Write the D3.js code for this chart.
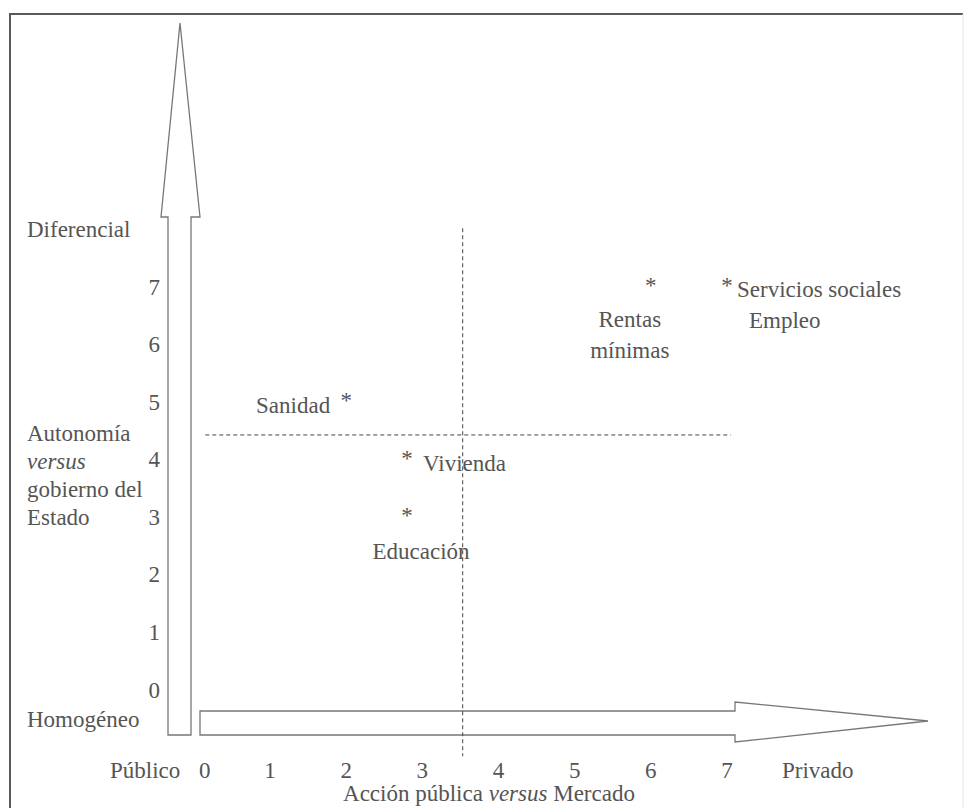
<!DOCTYPE html>
<html>
<head>
<meta charset="utf-8">
<script src="https://cdn.jsdelivr.net/npm/d3@7"></script>
<style>
  html, body { margin: 0; padding: 0; background: #fff; }
  svg text { font-family: "Liberation Serif", "Times New Roman", serif; fill: #555; }
</style>
</head>
<body>
<svg id="chart" width="966" height="808"></svg>
<script>
// ---- data ----
const categories = ["Sanidad", "Vivienda", "Educación", "Rentas mínimas", "Servicios sociales"];
const accionValues = [2, 2.8, 2.8, 6, 7];      // Acción pública versus Mercado
const autonomiaValues = [5, 4, 3, 7, 7];       // Autonomía versus gobierno del Estado
const xTicks = [0, 1, 2, 3, 4, 5, 6, 7];
const yTicks = [0, 1, 2, 3, 4, 5, 6, 7];
const hRefValue = 4.43;  // horizontal dashed reference (y)
const vRefValue = 3.53;  // vertical dashed reference (x)

// ---- layout ----
const svg = d3.select("#chart");
const x = d3.scaleLinear().domain([1, 7]).range([270, 727]);
const y = d3.scaleLinear().domain([0, 7]).range([690, 287]);
const FS = 23;
const lineCol = "#777";
const FONT = "'Liberation Serif', 'Times New Roman', serif";

// frame
svg.append("path").attr("d", "M10,808 L10,14 L963,14").attr("fill", "none").attr("stroke", "#5a5a5a").attr("stroke-width", 2);
svg.append("line").attr("x1", 963).attr("y1", 14).attr("x2", 963).attr("y2", 808).attr("stroke", "#e4e4e4").attr("stroke-width", 1);

// vertical arrow (axis decoration)
const vaL = 168, vaR = 191, vaC = 180, vaBot = 735, vaHead = 217, vaHL = 161, vaHR = 200, vaTip = 23;
svg.append("path")
  .attr("d", `M${vaL},${vaBot} L${vaL},${vaHead} L${vaHL},${vaHead} L${vaC},${vaTip} L${vaHR},${vaHead} L${vaR},${vaHead} L${vaR},${vaBot} Z`)
  .attr("fill", "none").attr("stroke", lineCol).attr("stroke-width", 1.3);

// horizontal arrow
const haL = 200, haT = 711, haB = 735, haHead = 735, haHT = 702, haHB = 742, haTip = 928, haC = 721;
svg.append("path")
  .attr("d", `M${haL},${haT} L${haHead},${haT} L${haHead},${haHT} L${haTip},${haC} L${haHead},${haHB} L${haHead},${haB} L${haL},${haB} Z`)
  .attr("fill", "none").attr("stroke", lineCol).attr("stroke-width", 1.3);

// dashed reference lines
svg.append("line")
  .attr("x1", x(0.15)).attr("x2", x(7.05)).attr("y1", y(hRefValue)).attr("y2", y(hRefValue))
  .attr("stroke", "#444").attr("stroke-width", 1).attr("stroke-dasharray", "4,3");
svg.append("line")
  .attr("x1", x(vRefValue)).attr("x2", x(vRefValue)).attr("y1", y(8.02)).attr("y2", y(-1.15))
  .attr("stroke", "#444").attr("stroke-width", 1).attr("stroke-dasharray", "4,3");

// y tick labels
svg.append("g").selectAll("text").data(yTicks).join("text")
  .attr("x", 160).attr("y", d => y(d)).attr("dy", "0.33em").attr("font-family", FONT)
  .attr("text-anchor", "end").attr("font-size", FS).text(d => d);

// x tick labels
svg.append("g").selectAll("text").data(xTicks).join("text")
  .attr("x", d => x(d) + (d === 0 ? 11 : 0)).attr("y", 778).attr("font-family", FONT)
  .attr("text-anchor", "middle").attr("font-size", FS).text(d => d);

// axis texts
function txt(xp, yp, s, opts = {}) {
  const t = svg.append("text").attr("x", xp).attr("y", yp).attr("font-size", FS)
    .attr("font-family", FONT).attr("text-anchor", opts.anchor || "start");
  if (opts.italic) t.attr("font-style", "italic");
  t.text(s);
  return t;
}
txt(27, 237, "Diferencial");
txt(27, 727, "Homogéneo");
txt(27, 441, "Autonomía");
txt(27, 469, "versus", { italic: true });
txt(27, 497, "gobierno del");
txt(27, 525, "Estado");
txt(110, 778, "Público");
txt(782, 778, "Privado");
const title = svg.append("text").attr("x", 489).attr("y", 801).attr("font-size", FS)
  .attr("font-family", FONT).attr("text-anchor", "middle");
title.append("tspan").text("Acción pública ");
title.append("tspan").attr("font-style", "italic").text("versus");
title.append("tspan").text(" Mercado");

// points (asterisks)
const pts = categories.map((c, i) => ({ c, xv: accionValues[i], yv: autonomiaValues[i] }));
svg.append("g").selectAll("text").data(pts).join("text")
  .attr("x", d => x(d.xv)).attr("y", d => y(d.yv) + 6).attr("font-family", FONT)
  .attr("text-anchor", "middle").attr("font-size", FS).attr("fill", "#666").text("*");

// point labels (placement per category)
const labelPlacement = {
  "Sanidad":            { dx: -16, dy: 3,  anchor: "end",    lines: ["Sanidad"] },
  "Vivienda":           { dx: 16,  dy: 4,  anchor: "start",  lines: ["Vivienda"] },
  "Educación":          { dx: 14,  dy: 34, anchor: "middle", lines: ["Educación"] },
  "Rentas mínimas":     { dx: -21, dy: 32, anchor: "middle", lines: ["Rentas", "mínimas"] },
  "Servicios sociales": { dx: 10,  dy: 2,  anchor: "start",  lines: ["Servicios sociales", "Empleo"], line2dx: 12 }
};
pts.forEach(p => {
  const L = labelPlacement[p.c];
  L.lines.forEach((s, k) => {
    svg.append("text")
      .attr("x", x(p.xv) + L.dx + (k > 0 && L.line2dx ? L.line2dx : 0))
      .attr("y", y(p.yv) + L.dy + k * 31)
      .attr("dy", "0.33em").attr("font-family", FONT)
      .attr("text-anchor", L.anchor).attr("font-size", FS).text(s);
  });
});
</script>
</body>
</html>
